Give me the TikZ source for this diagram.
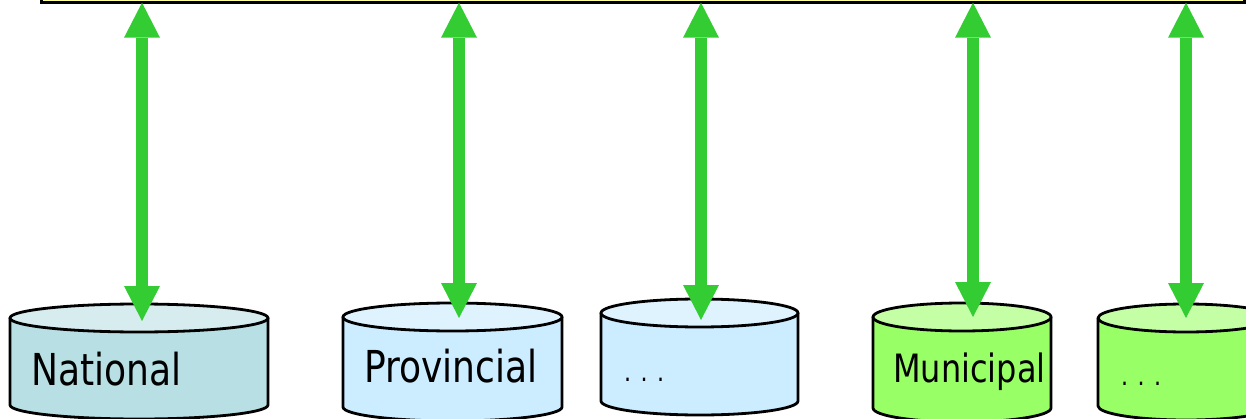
\documentclass[tikz,border=0pt]{standalone}
\usepackage{fontspec}
\setmainfont{DejaVu Sans}[FakeStretch=0.82]
\usetikzlibrary{arrows.meta}
\definecolor{arrowgreen}{RGB}{51,204,51}
\definecolor{busyellow}{RGB}{255,255,153}
\definecolor{natbody}{RGB}{184,224,228}
\definecolor{nattop}{RGB}{214,236,239}
\definecolor{provbody}{RGB}{204,236,255}
\definecolor{provtop}{RGB}{223,243,255}
\definecolor{munbody}{RGB}{153,255,102}
\definecolor{muntop}{RGB}{196,255,166}
\newcommand\dbcylinder[6]{% xl, xr, top centre y, bottom y (screen px), body colour, top colour
  \pgfmathsetmacro\cylrx{(#2-#1)/2}
  \path[cylline, fill=#5] (#1,418-#3) -- (#1,418-#4)
     arc[start angle=180, end angle=360, x radius=\cylrx, y radius=14]
     -- (#2,418-#3) -- cycle;
  \path[cylline, fill=#6] ({(#1+#2)/2},418-#3) ellipse[x radius=\cylrx, y radius=14];
}
\tikzset{
  cylline/.style={draw=black, line width=2.8pt, line join=round},
  topbox/.style={draw=black, fill=busyellow, line width=3pt, outer sep=0pt, inner sep=0pt, rectangle},
  bigtext/.style={inner sep=0pt, anchor=base west, font=\fontsize{44}{50}\selectfont},
  midtext/.style={inner sep=0pt, anchor=base west, font=\fontsize{39}{45}\selectfont},
  dotstext/.style={inner sep=0pt, anchor=base west, font=\fontsize{27}{30}\selectfont},
  link/.style={draw=arrowgreen, line width=12pt,
    {Triangle[width=36pt,length=35pt,line width=0pt]}-{Triangle[width=36pt,length=35pt,line width=0pt]}}
}
\begin{document}
\begin{tikzpicture}[x=1pt,y=1pt]
\useasboundingbox (0,0) rectangle (1246,418);
% top box (extends beyond the picture)
\node[topbox, minimum width=1203pt, minimum height=45pt, anchor=south west] (bus) at (41,415.3) {};
% cylinders
\dbcylinder{10}{268}{318}{405}{natbody}{nattop}
\dbcylinder{343}{562}{317}{407}{provbody}{provtop}
\dbcylinder{601}{798}{313}{401}{provbody}{provtop}
\dbcylinder{873}{1051}{317}{408}{munbody}{muntop}
\dbcylinder{1098}{1274}{318}{406}{munbody}{muntop}
% labels
\node[bigtext] (nat) at (31,33) {National};
\node[bigtext] (prov) at (364,36) {Provincial};
\node[dotstext] (dotsa) at (624,37) {. . .};
\node[midtext] (mun) at (893,36) {Municipal};
\node[dotstext] (dotsb) at (1121,33) {. . .};
% arrow end points on the cylinder tops
\coordinate (ca) at (142,418-321);
\coordinate (cb) at (459,418-318);
\coordinate (cc) at (701,418-320);
\coordinate (cd) at (973,418-317);
\coordinate (ce) at (1186,418-318);
% connectors
\draw[link] (ca) -- (bus.south -| ca);
\draw[link] (cb) -- (bus.south -| cb);
\draw[link] (cc) -- (bus.south -| cc);
\draw[link] (cd) -- (bus.south -| cd);
\draw[link] (ce) -- (bus.south -| ce);
\end{tikzpicture}
\end{document}
